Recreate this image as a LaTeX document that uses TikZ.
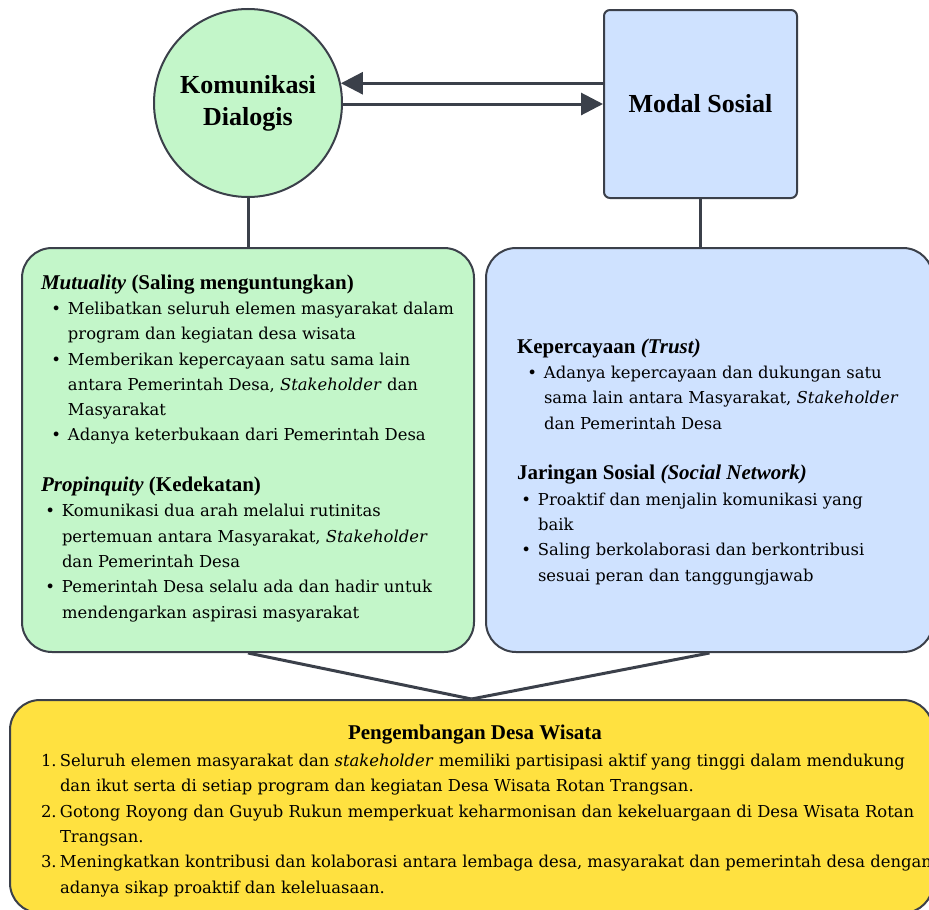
\documentclass[tikz,border=0pt]{standalone}
\usepackage{fontspec}
\setmainfont{DejaVu Serif}
\newfontfamily\headfont{Liberation Serif}
\usetikzlibrary{arrows.meta}
\definecolor{lineGray}{RGB}{59,64,74}
\definecolor{dialogGreen}{RGB}{195,246,201}
\definecolor{modalBlue}{RGB}{207,226,255}
\definecolor{wisataYellow}{RGB}{255,225,64}
\tikzset{every picture/.style={line width=2pt}}
\tikzset{
	box/.style={draw=lineGray, line width=2pt, rounded corners=30pt},
	link/.style={draw=lineGray, line width=3pt},
	flow/.style={link, -{Triangle[length=22pt,width=22pt]}},
	head/.style={font=\headfont\bfseries\fontsize{26}{32}\selectfont, align=center},
	body/.style={font=\fontsize{16.4}{25.3}\selectfont, align=left, anchor=base west, inner sep=0pt}
}
\newcommand{\hd}[1]{{\headfont\bfseries\fontsize{21}{25.3}\selectfont #1}}
\newcommand{\bitem}[1][27pt]{\makebox[#1][r]{•\hspace{7pt}}}
\newcommand{\cont}[1][27pt]{\hspace*{#1}}
\newcommand{\num}[1]{\makebox[19pt][l]{#1}}

\begin{document}
\begin{tikzpicture}[x=1pt,y=-1pt]
\useasboundingbox (0,0) rectangle (929,910);
%
\node[circle, draw=lineGray, fill=dialogGreen, minimum size=188pt, inner sep=0pt, head] (komm) at (248,103) {Komunikasi\\Dialogis};
\node[draw=lineGray, fill=modalBlue, rounded corners=6pt, minimum width=193pt, minimum height=188pt, head] (modal) at (700.5,104) {Modal Sosial};
%
\node[box, fill=dialogGreen, minimum width=452pt, minimum height=404pt] (mutu) at (248,450) {};
\node[box, fill=modalBlue, minimum width=447pt, minimum height=404pt] (trust) at (709.5,450) {};
\node[box, fill=wisataYellow, minimum width=923pt, minimum height=213pt] (wisata) at (471.5,806.5) {};
%
\draw[flow] (modal.west |- komm.12) -- (komm.12);
\draw[flow] (komm.east |- modal.west) -- (modal.west);
\draw[link] (komm.south) -- (mutu.north);
\draw[link] (modal.south) -- (modal.south |- trust.north);
%
\foreach \Source/\Target in {%
	mutu.south/wisata.north,
	trust.south/wisata.north%
	}
\draw[link] (\Source) to (\Target);
%
% base anchor = last line
\node[body] (mutuText) at (40,618) {%
\hd{\textit{Mutuality} (Saling menguntungkan)}\\
\bitem Melibatkan seluruh elemen masyarakat dalam\\
\cont program dan kegiatan desa wisata\\
\bitem Memberikan kepercayaan satu sama lain\\
\cont antara Pemerintah Desa, \textit{Stakeholder} dan\\
\cont Masyarakat\\
\bitem Adanya keterbukaan dari Pemerintah Desa\\[25.3pt]
\hd{\textit{Propinquity} (Kedekatan)}\\
\bitem[21pt]Komunikasi dua arah melalui rutinitas\\
\cont[21pt]pertemuan antara Masyarakat, \textit{Stakeholder}\\
\cont[21pt]dan Pemerintah Desa\\
\bitem[21pt]Pemerintah Desa selalu ada dan hadir untuk\\
\cont[21pt]mendengarkan aspirasi masyarakat};
%
\node[body] (trustText) at (516,581) {%
\hd{Kepercayaan \textit{(Trust)}}\\
\bitem Adanya kepercayaan dan dukungan satu\\
\cont sama lain antara Masyarakat, \textit{Stakeholder}\\
\cont dan Pemerintah Desa\\[25.3pt]
\hd{Jaringan Sosial \textit{(Social Network)}}\\
\bitem[21pt]Proaktif dan menjalin komunikasi yang\\
\cont[21pt]baik\\
\bitem[21pt]Saling berkolaborasi dan berkontribusi\\
\cont[21pt]sesuai peran dan tanggungjawab};
%
\node (wisataTitle) at (475,735) {\hd{Pengembangan Desa Wisata}};
\node[body] (wisataText) at (40,893) {%
\num{1.}Seluruh elemen masyarakat dan \textit{stakeholder} memiliki partisipasi aktif yang tinggi dalam mendukung\\
\num{}dan ikut serta di setiap program dan kegiatan Desa Wisata Rotan Trangsan.\\
\num{2.}Gotong Royong dan Guyub Rukun memperkuat keharmonisan dan kekeluargaan di Desa Wisata Rotan\\
\num{}Trangsan.\\
\num{3.}Meningkatkan kontribusi dan kolaborasi antara lembaga desa, masyarakat dan pemerintah desa dengan\\
\num{}adanya sikap proaktif dan keleluasaan.};
\end{tikzpicture}
\end{document}
